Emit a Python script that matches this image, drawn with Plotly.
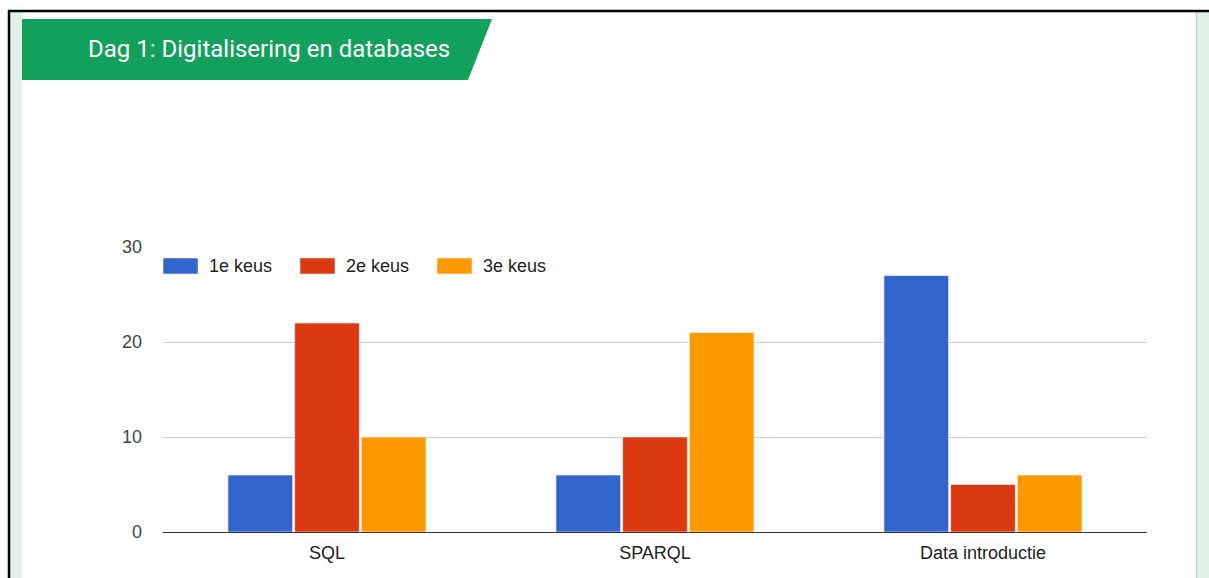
import plotly.graph_objects as go

categories = ["SQL", "SPARQL", "Data introductie"]
series_names = ["1e keus", "2e keus", "3e keus"]
keus1 = [6, 6, 27]
keus2 = [22, 10, 5]
keus3 = [10, 21, 6]
series_values = [keus1, keus2, keus3]
colors = ["#3366cc", "#dc3912", "#ff9900"]
y_ticks = [0, 10, 20, 30]
title_text = "Dag 1: Digitalisering en databases"

W, H = 1209, 578
L, R, T, B = 163, 1147, 247, 532


def px(x):
    return (x - L) / (R - L)


def py(y):
    return (B - y) / (B - T)


fig = go.Figure()
for name, vals, col in zip(series_names, series_values, colors):
    fig.add_trace(go.Bar(
        x=categories, y=vals, name=name, marker_color=col,
        marker_line_color="rgba(255,255,255,0.6)", marker_line_width=1,
        showlegend=False,
    ))

shapes = []
# left mint strip
shapes.append(dict(type="rect", xref="paper", yref="paper", x0=px(10), x1=px(22), y0=py(578), y1=py(12),
                   fillcolor="#e1f0e8", line_width=0, layer="below"))
# right mint strip + shadow
shapes.append(dict(type="rect", xref="paper", yref="paper", x0=px(1196), x1=px(1210), y0=py(578), y1=py(12),
                   fillcolor="#e1f0e8", line_width=0, layer="below"))
shapes.append(dict(type="line", xref="paper", yref="paper", x0=px(1196.5), x1=px(1196.5), y0=py(578), y1=py(12),
                   line=dict(color="#c8cfcb", width=1.5)))
# black frame (top and left)
shapes.append(dict(type="line", xref="paper", yref="paper", x0=px(8), x1=px(1210), y0=py(11), y1=py(11),
                   line=dict(color="#000000", width=2.5)))
shapes.append(dict(type="line", xref="paper", yref="paper", x0=px(9), x1=px(9), y0=py(10), y1=py(579),
                   line=dict(color="#000000", width=2.5)))
# green banner
path = "M {} {} L {} {} L {} {} L {} {} Z".format(px(22), py(19), px(492), py(19), px(468), py(80), px(22), py(80))
shapes.append(dict(type="path", xref="paper", yref="paper", path=path, fillcolor="#12a05c", line_width=0))

annotations = [dict(text=title_text, xref="paper", yref="paper", x=px(86), y=py(49), xanchor="left",
                    yanchor="middle", showarrow=False, font=dict(family="Roboto", size=24, color="#ffffff"))]

# legend drawn as swatches + labels
sw_x = [163, 300, 437]
for name, col, x0 in zip(series_names, colors, sw_x):
    shapes.append(dict(type="rect", xref="paper", yref="paper", x0=px(x0), x1=px(x0 + 35), y0=py(274), y1=py(258),
                       fillcolor=col, line=dict(color="rgba(255,255,255,0.5)", width=1)))
    annotations.append(dict(text=name, xref="paper", yref="paper", x=px(x0 + 44), y=py(266), xanchor="left",
                            yanchor="middle", showarrow=False,
                            font=dict(family="Liberation Sans, Arial", size=18, color="#222222")))

fig.update_layout(
    width=W, height=H,
    margin=dict(l=L, r=W - R, t=T, b=H - B, pad=0),
    paper_bgcolor="#ffffff", plot_bgcolor="#ffffff",
    barmode="group", bargap=0.39, bargroupgap=0.03,
    font=dict(family="Liberation Sans, Arial", size=18, color="#444444"),
    shapes=shapes, annotations=annotations,
    showlegend=False,
)
fig.update_xaxes(showgrid=False, showline=True, linecolor="#333333", linewidth=1,
                 ticks="", ticklabelstandoff=4, tickfont=dict(size=18, color="#222222"))
fig.update_yaxes(range=[0, 30], tickvals=y_ticks, showgrid=True, gridcolor="#cccccc", gridwidth=1,
                 zeroline=False, showline=False, ticks="", ticklabelstandoff=20,
                 tickfont=dict(size=18, color="#444444"))

fig.write_html("out.html", config={"displayModeBar": False},
               post_script="document.body.style.margin='0';document.body.style.overflow='hidden';")
